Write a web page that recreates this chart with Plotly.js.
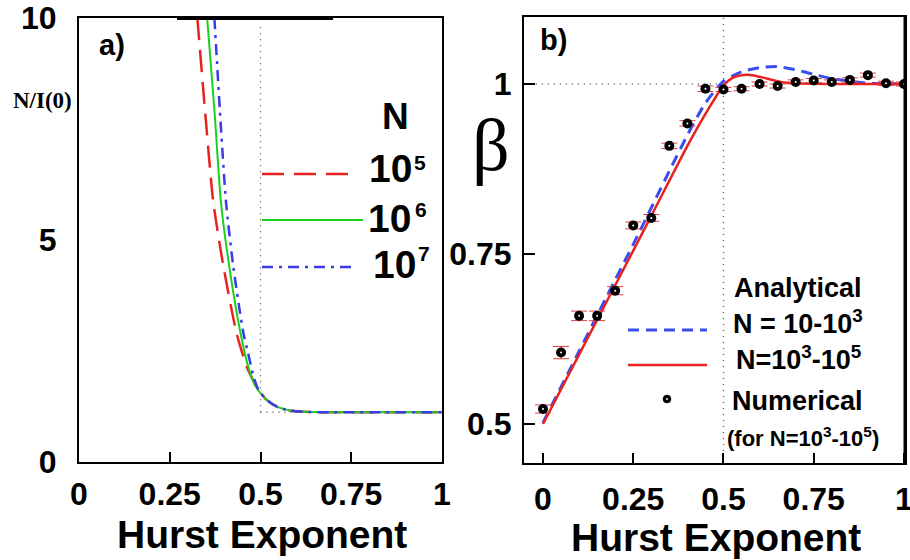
<!DOCTYPE html>
<html><head><meta charset="utf-8">
<script src="https://cdn.plot.ly/plotly-3.0.1.min.js"></script>
<style>html,body{margin:0;padding:0;background:#fff}#chart{width:910px;height:560px}</style>
</head><body><div id="chart"></div>
<script>
// ---------- Panel a) : N/I(0) vs Hurst exponent ----------
const hurstA_N5 = [0.326,0.347,0.370,0.398,0.434,0.462,0.482,0.494,0.517,0.545,0.581,0.62,0.70,1.0];
const ratioA_N5 = [10,7.93,5.85,4.40,2.90,2.15,1.80,1.62,1.40,1.245,1.16,1.13,1.12,1.12];
const hurstA_N6 = [0.353,0.373,0.391,0.414,0.445,0.466,0.482,0.494,0.517,0.545,0.581,0.62,0.70,1.0];
const ratioA_N6 = [10,7.93,5.85,4.40,2.90,2.15,1.78,1.61,1.40,1.245,1.16,1.13,1.12,1.12];
const hurstA_N7 = [0.373,0.388,0.405,0.425,0.453,0.466,0.480,0.494,0.517,0.545,0.581,0.62,0.70,1.0];
const ratioA_N7 = [10,7.93,5.85,4.40,2.90,2.45,1.95,1.63,1.40,1.245,1.16,1.13,1.12,1.12];
const tickA_x = [0,0.25,0.5,0.75,1];
const tickA_xText = ['0','0.25','0.5','0.75','1'];
const tickA_y = [0,5,10];
const tickA_yText = ['0','5','10'];

// ---------- Panel b) : beta vs Hurst exponent ----------
const hurstB_low = [0,0.1,0.2,0.25,0.3,0.35,0.4,0.45,0.5,0.55,0.6,0.65,0.7,0.75,0.8,0.85,0.9,1.0];
const betaB_low  = [0.502,0.607,0.712,0.764,0.818,0.872,0.925,0.972,1.004,1.018,1.024,1.0255,1.021,1.014,1.008,1.004,1.001,1.0];
const hurstB_high = [0,0.1,0.2,0.3,0.4,0.45,0.48,0.5,0.525,0.55,0.58,0.62,0.66,0.7,0.8,1.0];
const betaB_high  = [0.5,0.602,0.704,0.806,0.909,0.956,0.982,0.998,1.009,1.013,1.013,1.008,1.003,1.001,1.0,1.0];
const hurstB_num = [0,0.05,0.1,0.15,0.2,0.25,0.3,0.35,0.4,0.45,0.5,0.55,0.6,0.65,0.7,0.75,0.8,0.85,0.9,0.95,1.0];
const betaB_num  = [0.522,0.605,0.659,0.659,0.696,0.792,0.803,0.909,0.942,0.993,0.992,0.993,1.000,0.997,1.003,1.005,1.003,1.006,1.013,1.001,1.000];
const errB_num   = [0.006,0.009,0.007,0.007,0.006,0.005,0.005,0.004,0.004,0.004,0.003,0.003,0.003,0.003,0.003,0.003,0.003,0.003,0.003,0.003,0.003];
const tickB_x = [0,0.25,0.5,0.75,1];
const tickB_xText = ['0','0.25','0.5','0.75','1'];
const tickB_y = [0.5,0.75,1];
const tickB_yText = ['0.5','0.75','1'];

const W = 910, H = 560;
const px = v => v / W, py = v => 1 - v / H;
const SANS = 'Liberation Sans, Arial, sans-serif';
const SERIF = 'Liberation Serif, Times New Roman, serif';
const dotted = {color:'#555', width:1.3, dash:'1px,5px'};

const traces = [
  {x:hurstA_N5, y:ratioA_N5, xaxis:'x', yaxis:'y', mode:'lines', line:{color:'#e8231f', width:2.5, dash:'22px,10px', shape:'spline', smoothing:0.6}, name:'10^5'},
  {x:hurstA_N6, y:ratioA_N6, xaxis:'x', yaxis:'y', mode:'lines', line:{color:'#19d11c', width:2, shape:'spline', smoothing:0.6}, name:'10^6'},
  {x:hurstA_N7, y:ratioA_N7, xaxis:'x', yaxis:'y', mode:'lines', line:{color:'#3a3ae8', width:2.5, dash:'11px,6px,3px,6px', shape:'spline', smoothing:0.6}, name:'10^7'},
  {x:hurstB_low, y:betaB_low, xaxis:'x2', yaxis:'y2', mode:'lines', line:{color:'#3a4ef0', width:3, dash:'11px,7px', shape:'spline', smoothing:0.6}, name:'N = 10-10^3'},
  {x:hurstB_high, y:betaB_high, xaxis:'x2', yaxis:'y2', mode:'lines', line:{color:'#e8231f', width:2.5, shape:'spline', smoothing:0.6}, name:'N=10^3-10^5'},
  {x:hurstB_num, y:betaB_num, xaxis:'x2', yaxis:'y2', mode:'markers', marker:{color:'#000', size:10},
   error_y:{type:'data', array:errB_num, visible:true, color:'#e04040', thickness:1, width:8}, name:'Numerical'},
  {x:hurstB_num, y:betaB_num, xaxis:'x2', yaxis:'y2', mode:'markers', marker:{color:'#fff', size:2}, hoverinfo:'skip', name:'centre'}
];

const axisCommon = {showline:true, mirror:true, linecolor:'#000', linewidth:2, showgrid:false, zeroline:false,
  tickcolor:'#000', tickwidth:2, tickmode:'array', ticklabeloverflow:'allow',
  tickfont:{family:SANS, size:32, color:'#000', weight:700}, fixedrange:true};

const layout = {
  width:W, height:H, margin:{l:0,r:0,t:0,b:0}, paper_bgcolor:'#fff', plot_bgcolor:'#fff', showlegend:false,
  xaxis: Object.assign({}, axisCommon, {domain:[px(79), px(442)], range:[0,1], anchor:'y', ticks:'inside', ticklen:10,
    tickvals:tickA_x, ticktext:tickA_xText, ticklabelstandoff:3}),
  yaxis: Object.assign({}, axisCommon, {domain:[py(462), py(18)], range:[0,10], anchor:'x', ticks:'',
    tickvals:tickA_y, ticktext:tickA_yText, ticklabelstandoff:14}),
  xaxis2: Object.assign({}, axisCommon, {domain:[px(524), px(905)], range:[-0.0526,1.0028], anchor:'y2', ticks:'inside', ticklen:10,
    tickvals:tickB_x, ticktext:tickB_xText, ticklabelstandoff:7}),
  yaxis2: Object.assign({}, axisCommon, {domain:[py(463), py(17)], range:[0.4426,1.0985], anchor:'x2', ticks:'inside', ticklen:11,
    tickvals:tickB_y, ticktext:tickB_yText, ticklabelstandoff:4}),
  shapes: [
    {type:'line', xref:'x', yref:'y', x0:0.27, x1:0.70, y0:10, y1:10, line:{color:'#000', width:4}},
    {type:'line', xref:'x', yref:'y', x0:0.5, x1:0.5, y0:1.12, y1:9.85, line:dotted, layer:'below'},
    {type:'line', xref:'x', yref:'y', x0:0.5, x1:1, y0:1.12, y1:1.12, line:dotted, layer:'below'},
    {type:'line', xref:'x2', yref:'y2 domain', x0:0.5, x1:0.5, y0:0, y1:1, line:dotted, layer:'below'},
    {type:'line', xref:'x2', yref:'y2', x0:-0.02, x1:0.5, y0:1, y1:1, line:dotted, layer:'below'},
    {type:'line', xref:'x2 domain', yref:'y2 domain', x0:1, x1:1, y0:0, y1:1, line:{color:'#000', width:3}},
    // legend a)
    {type:'line', xref:'paper', yref:'paper', x0:px(262), x1:px(356), y0:py(174), y1:py(174), line:{color:'#e8231f', width:2.5, dash:'22px,10px'}},
    {type:'line', xref:'paper', yref:'paper', x0:px(262), x1:px(363), y0:py(220), y1:py(220), line:{color:'#19d11c', width:2}},
    {type:'line', xref:'paper', yref:'paper', x0:px(262), x1:px(357), y0:py(267), y1:py(267), line:{color:'#3a3ae8', width:2.5, dash:'11px,6px,3px,6px'}},
    // legend b)
    {type:'line', xref:'paper', yref:'paper', x0:px(628), x1:px(707), y0:py(330), y1:py(330), line:{color:'#3a4ef0', width:3, dash:'11px,7px'}},
    {type:'line', xref:'paper', yref:'paper', x0:px(628), x1:px(707), y0:py(365), y1:py(365), line:{color:'#e8231f', width:2.5}},
    {type:'circle', xref:'paper', yref:'paper', x0:px(663), x1:px(671), y0:py(403), y1:py(395), fillcolor:'#000', line:{color:'#000', width:0.5}},
    {type:'circle', xref:'paper', yref:'paper', x0:px(666), x1:px(668), y0:py(400), y1:py(398), fillcolor:'#fff', line:{color:'#fff', width:0}}
  ],
  annotations: [
    {text:'Hurst Exponent', x:px(262), y:py(534), size:39},
    {text:'Hurst Exponent', x:px(716), y:py(537), size:39},
    {text:'a)', x:px(112), y:py(45), size:29},
    {text:'b)', x:px(553), y:py(40), size:29},
    {text:'N/I(0)', x:px(42), y:py(100), size:23, family:SERIF},
    {text:'β', x:px(491), y:py(145), size:74, family:SERIF, weight:400},
    {text:'N', x:px(395), y:py(116), size:37},
    {text:'10', x:px(390), y:py(168), size:39},
    {text:'5', x:px(420), y:py(162), size:21},
    {text:'10', x:px(389), y:py(219), size:39},
    {text:'6', x:px(421), y:py(209), size:21},
    {text:'10', x:px(394), y:py(264), size:39},
    {text:'7', x:px(424), y:py(254), size:21},
    {text:'Analytical', x:px(798), y:py(288), size:27},
    {text:'N = 10-10<sup>3</sup>', x:px(798), y:py(322), size:27},
    {text:'N=10<sup>3</sup>-10<sup>5</sup>', x:px(798), y:py(358), size:27},
    {text:'Numerical', x:px(797), y:py(401), size:27},
    {text:'(for N=10<sup>3</sup>-10<sup>5</sup>)', x:px(803), y:py(437), size:22}
  ].map(a => ({text:a.text, x:a.x, y:a.y, xref:'paper', yref:'paper', xanchor:'center', yanchor:'middle', showarrow:false,
      font:{family:a.family || SANS, size:a.size || 37, color:'#000', weight:(a.weight !== undefined ? a.weight : 700)}}))
};

Plotly.newPlot('chart', traces, layout, {staticPlot:true, displayModeBar:false});
</script>
</body></html>
